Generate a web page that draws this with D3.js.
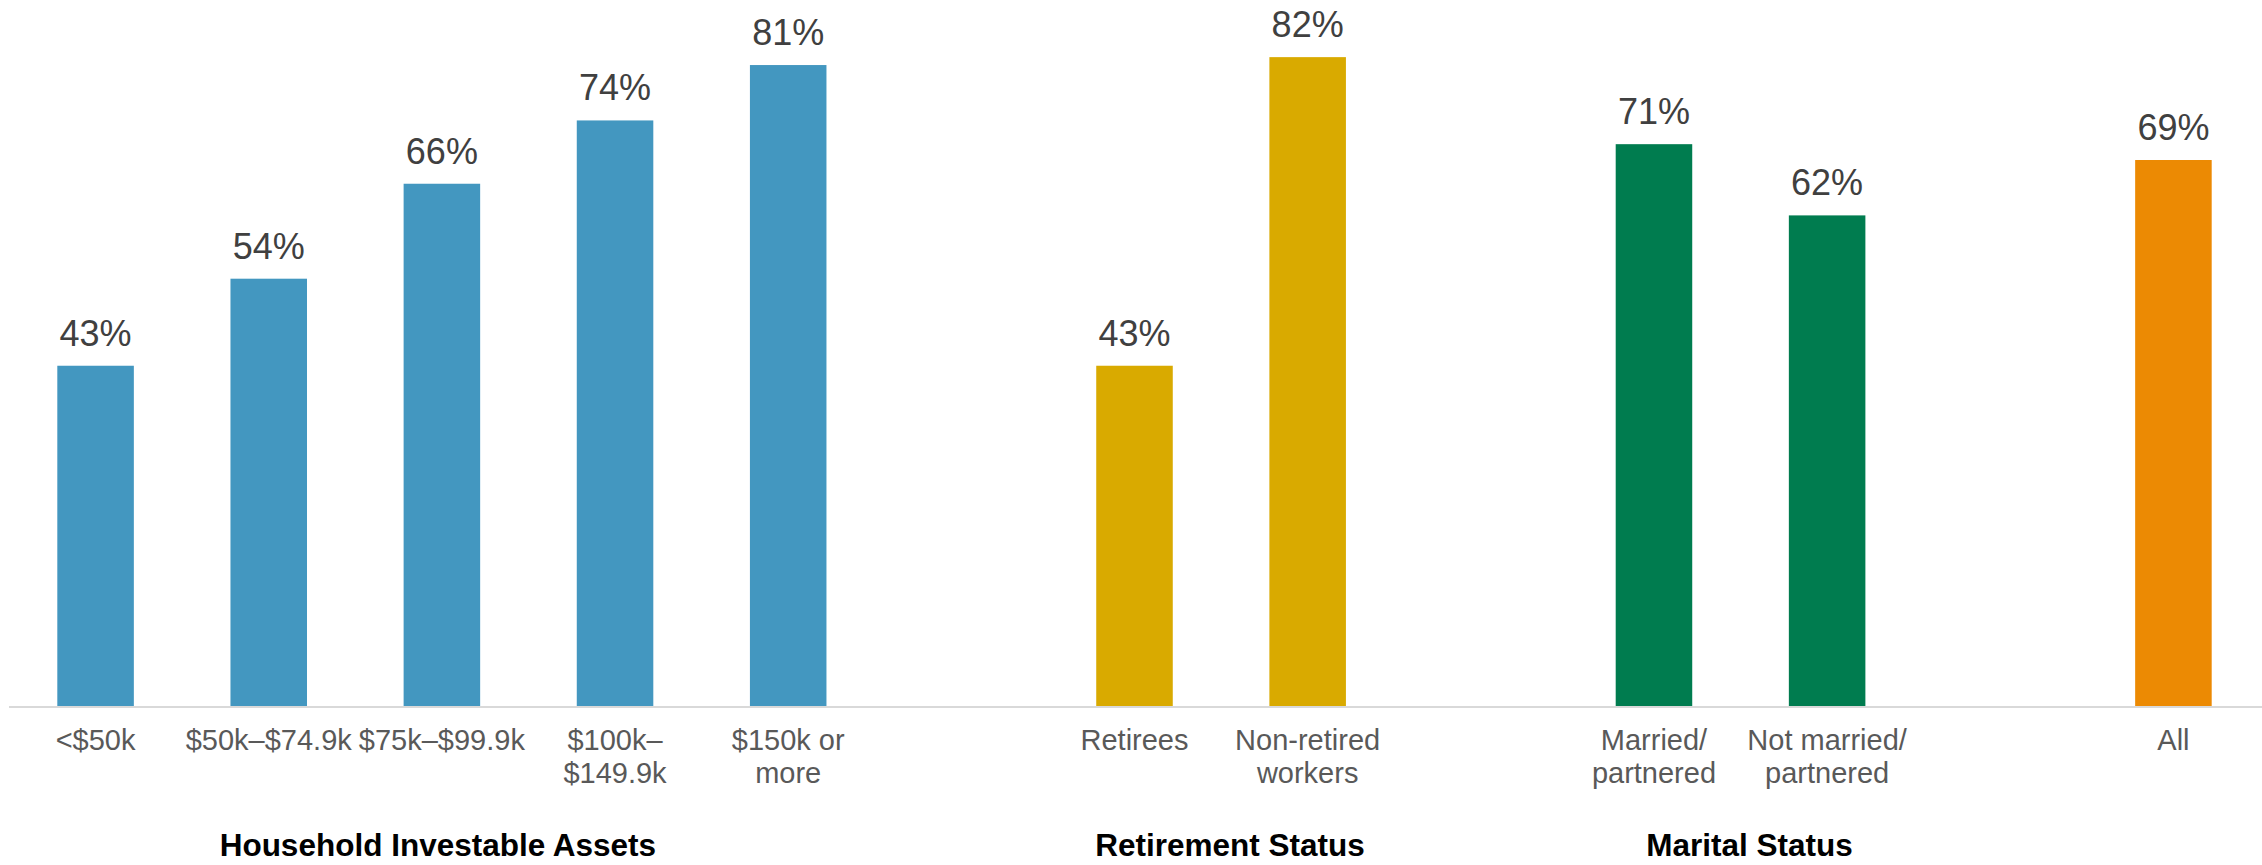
<!DOCTYPE html>
<html>
<head>
<meta charset="utf-8">
<script src="https://cdn.jsdelivr.net/npm/d3@7"></script>
<style>
  html, body { margin: 0; padding: 0; background: #ffffff; }
  svg { display: block; }
  text { font-family: "Liberation Sans", Arial, Helvetica, sans-serif; }
</style>
</head>
<body>
<svg id="chart" width="2262" height="865"></svg>
<script>
// Category slots (blank slots separate the groups), one label line per array entry
const categories = [
  ["<$50k"], ["$50k–$74.9k"], ["$75k–$99.9k"], ["$100k–", "$149.9k"], ["$150k or", "more"],
  [],
  ["Retirees"], ["Non-retired", "workers"],
  [],
  ["Married/", "partnered"], ["Not married/", "partnered"],
  [],
  ["All"]
];
const values = [0.43, 0.54, 0.66, 0.74, 0.81, null, 0.43, 0.82, null, 0.71, 0.62, null, 0.69];
const groupOf = [0, 0, 0, 0, 0, null, 1, 1, null, 2, 2, null, 3];
const groupNames = ["Household Investable Assets", "Retirement Status", "Marital Status", ""];
const groupColors = ["#4397c0", "#d9aa00", "#007c4f", "#ec8a03"];

const svg = d3.select("#chart");
const baseline = 706;

const x = d3.scaleBand()
  .domain(d3.range(categories.length))
  .range([9, 2260])
  .paddingInner(0.558)
  .paddingOuter(0.279);

const y = d3.scaleLinear()
  .domain([0, 1])
  .range([baseline, baseline - 791.3]);

const rows = values.map((v, i) => ({ i, v, g: groupOf[i], lines: categories[i] }))
  .filter(d => d.v !== null);

// Bars
svg.append("g").selectAll("rect")
  .data(rows)
  .join("rect")
  .attr("x", d => x(d.i))
  .attr("width", x.bandwidth())
  .attr("y", d => y(d.v))
  .attr("height", d => y(0) - y(d.v))
  .attr("fill", d => groupColors[d.g]);

// Category axis line
svg.append("line")
  .attr("x1", 9).attr("x2", 2262)
  .attr("y1", baseline + 1).attr("y2", baseline + 1)
  .attr("stroke", "#d9d9d9")
  .attr("stroke-width", 2);

// Value labels
svg.append("g").selectAll("text")
  .data(rows)
  .join("text")
  .attr("x", d => x(d.i) + x.bandwidth() / 2)
  .attr("y", d => y(d.v) - 20)
  .attr("text-anchor", "middle")
  .attr("font-size", 36)
  .attr("fill", "#404040")
  .text(d => d3.format(".0%")(d.v));

// Category labels
const cat = svg.append("g").selectAll("text")
  .data(rows)
  .join("text")
  .attr("x", d => x(d.i) + x.bandwidth() / 2)
  .attr("y", 750)
  .attr("text-anchor", "middle")
  .attr("font-size", 29)
  .attr("fill", "#595959");
cat.selectAll("tspan")
  .data(d => d.lines.map(l => ({ l, cx: x(d.i) + x.bandwidth() / 2 })))
  .join("tspan")
  .attr("x", t => t.cx)
  .attr("dy", (t, k) => k === 0 ? 0 : 33)
  .text(t => t.l);

// Group titles centred under their bars
const groups = d3.groups(rows, d => d.g)
  .filter(([g]) => groupNames[g])
  .map(([g, items]) => ({
    name: groupNames[g],
    cx: d3.mean(items, d => x(d.i) + x.bandwidth() / 2) + (g === 0 ? -4 : 9)
  }));

svg.append("g").selectAll("text")
  .data(groups)
  .join("text")
  .attr("x", d => d.cx)
  .attr("y", 856)
  .attr("text-anchor", "middle")
  .attr("font-size", 31.5)
  .attr("font-weight", "bold")
  .attr("fill", "#000000")
  .text(d => d.name);
</script>
</body>
</html>
